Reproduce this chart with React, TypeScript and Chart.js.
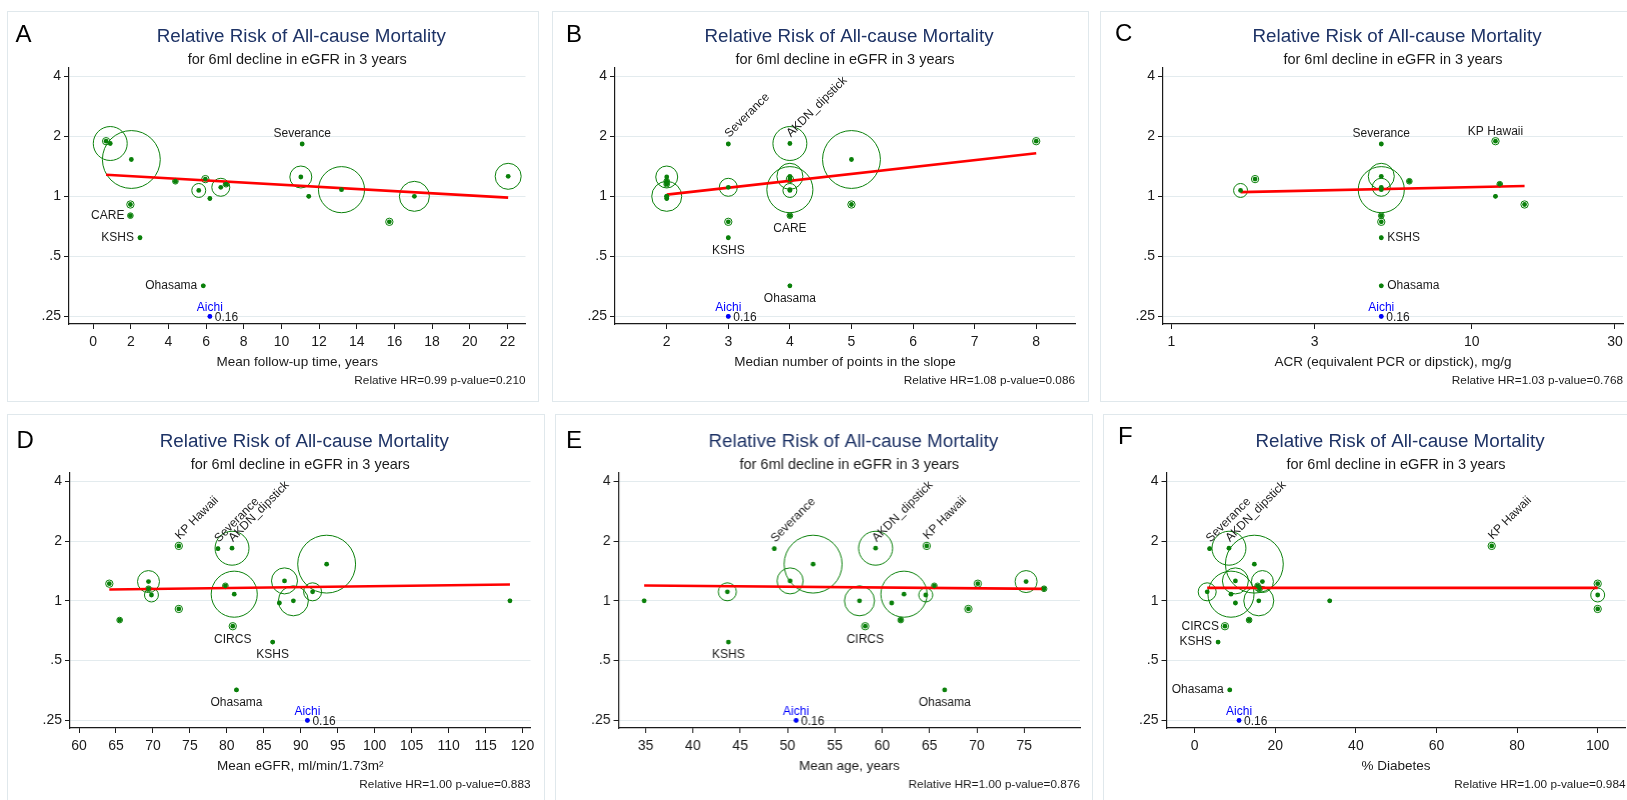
import React, { useEffect, useRef } from "react";
import { Chart, registerables } from "chart.js";

Chart.register(...registerables);

// one entry per cohort, same order in every array
const studies = [
  "KP Hawaii", "AKDN_dipstick", "Cohort 3", "Cohort 4", "CARE", "KSHS", "Cohort 7",
  "Cohort 8", "Cohort 9", "Cohort 10", "Ohasama", "Aichi", "Cohort 13", "Cohort 14",
  "Severance", "Cohort 16", "Cohort 17", "Cohort 18", "CIRCS", "Cohort 20", "Cohort 21",
];
const hazardRatios = [
  1.89, 1.84, 1.53, 0.91, 0.8, 0.62, 1.19, 1.07, 1.22, 0.975, 0.356, 0.16, 1.11, 1.15,
  1.83, 1.25, 1.0, 1.08, 0.745, 1.0, 1.26,
];
const studyWeights = [
  1.5, 32, 93, 1.5, 0.9, 0.3, 0.9, 5.4, 1.5, 0.3, 0.3, 0.3, 9, 0.9, 0.3, 13.4, 0.3, 59,
  1.5, 25, 18.8,
];
const followUpYears = [
  0.69, 0.91, 2.03, 1.98, 1.98, 2.49, 4.37, 5.61, 5.96, 6.2, 5.85, 6.2, 6.78, 7.06, 11.1,
  11.03, 11.45, 13.19, 15.73, 17.06, 22.04,
];
const slopePoints = [8, 4, 5, 5, 4, 3, 2, 4, 4, 2, 4, 3, 3, 2, 3, 2, 2, 4, 3, 2, 4];
const acrMgG = [
  12.0, null, null, 15.0, 5.0, 5.0, 6.2, 1.7, 1.9, null, 5.0, 5.0, 5.0, 12.4, 5.0, null,
  12.0, 5.0, 5.0, null, 5.0,
];
const meanEgfr = [
  73.5, 80.7, 93.5, 73.5, 65.5, 86.2, 79.8, 69.8, 64.1, 87.1, 81.3, 90.9, 91.6, 69.4,
  78.8, 69.4, 118.3, 81.0, 80.8, 89.0, 87.8,
];
const meanAge = [
  64.7, 59.3, 52.7, 69.1, 61.95, 43.75, 65.5, 64.6, 70.1, 61.0, 66.6, 50.9, 43.64, 77.1,
  48.6, 75.2, 34.85, 62.3, 58.2, 57.6, 50.27,
];
const pctDiabetes = [
  73.7, 8.5, 14.8, 100, 13.5, 5.8, 15.6, 100, 100, 10.1, 8.7, 11.0, 3.1, 16.1, 3.7, 16.8,
  33.5, 9.0, 7.5, 15.9, 10.1,
];

// meta-regression lines (start / end)
const fitFollowUp = [{ x: 0.69, y: 1.284 }, { x: 22.04, y: 0.985 }];
const fitSlopePoints = [{ x: 2, y: 1.02 }, { x: 8, y: 1.644 }];
const fitAcr = [{ x: 1.7, y: 1.05 }, { x: 15, y: 1.127 }];
const fitEgfr = [{ x: 64.1, y: 1.14 }, { x: 118.3, y: 1.208 }];
const fitAge = [{ x: 34.85, y: 1.194 }, { x: 77.1, y: 1.149 }];
const fitDiabetes = [{ x: 3.1, y: 1.162 }, { x: 100, y: 1.162 }];

const relativeHR = ["0.99", "1.08", "1.03", "1.00", "1.00", "1.00"];
const pValues = ["0.210", "0.086", "0.768", "0.883", "0.876", "0.984"];

const yTicks = [0.25, 0.5, 1, 2, 4];
const yTickLabels = [".25", ".5", "1", "2", "4"];
const Y_FLOOR = 0.25;

const ticksFollowUp = [0, 2, 4, 6, 8, 10, 12, 14, 16, 18, 20, 22];
const ticksSlope = [2, 3, 4, 5, 6, 7, 8];
const ticksAcr = [1, 3, 10, 30];
const ticksEgfr = [60, 65, 70, 75, 80, 85, 90, 95, 100, 105, 110, 115, 120];
const ticksAge = [35, 40, 45, 50, 55, 60, 65, 70, 75];
const ticksDiabetes = [0, 20, 40, 60, 80, 100];

const FONT = "'Liberation Sans', Arial, sans-serif";
const INK = "#1a1a1a";
const GREEN = "#0a800a";
const BLUE = "#0000ff";
const RED = "#ff0000";
const NAVY = "#1e3366";
const GRID = "#e3ebee";

const panels = [
  {
    letter: "A", letterAt: [8.5, 31], box: [7, 11, 532, 391], plot: [69, 68, 525.5, 324],
    xs: followUpYears, xLog: false, xRange: [-1.28, 22.96], xTicks: ticksFollowUp,
    xTitle: "Mean follow-up time, years", fit: fitFollowUp,
    labels: { Severance: "top", CARE: "left", KSHS: "left", Ohasama: "left" },
  },
  {
    letter: "B", letterAt: [14, 31], box: [551.5, 11, 537, 391], plot: [614.5, 68, 1074.5, 324],
    xs: slopePoints, xLog: false, xRange: [1.16, 8.63], xTicks: ticksSlope,
    xTitle: "Median number of points in the slope", fit: fitSlopePoints,
    labels: { Severance: "rot", AKDN_dipstick: "rot", KSHS: "bottom", CARE: "bottom", Ohasama: "bottom" },
  },
  {
    letter: "C", letterAt: [15, 30], box: [1099.5, 11, 540, 391], plot: [1162.5, 68, 1622.5, 324],
    xs: acrMgG, xLog: true, xRange: [0.938, 31.9], xTicks: ticksAcr,
    xTitle: "ACR (equivalent PCR or dipstick), mg/g", fit: fitAcr,
    labels: { Severance: "top", "KP Hawaii": "top", KSHS: "right", Ohasama: "right" },
  },
  {
    letter: "D", letterAt: [9.5, 34], box: [7, 414, 538, 400], plot: [70, 473, 530.5, 728],
    xs: meanEgfr, xLog: false, xRange: [58.78, 121.08], xTicks: ticksEgfr,
    xTitle: "Mean eGFR, ml/min/1.73m²", fit: fitEgfr,
    labels: { "KP Hawaii": "rot", Severance: "rot", AKDN_dipstick: "rot", CIRCS: "bottom", KSHS: "bottom", Ohasama: "bottom" },
  },
  {
    letter: "E", letterAt: [11, 34], box: [555, 414, 537.5, 400], plot: [618.5, 473, 1079, 728],
    xs: meanAge, xLog: false, xRange: [32.15, 80.9], xTicks: ticksAge,
    xTitle: "Mean age, years", fit: fitAge,
    labels: { Severance: "rot", AKDN_dipstick: "rot", "KP Hawaii": "rot", KSHS: "bottom", CIRCS: "bottom", Ohasama: "bottom" },
  },
  {
    letter: "F", letterAt: [15, 30], box: [1103, 414, 540, 400], plot: [1166.5, 473, 1625.5, 728],
    xs: pctDiabetes, xLog: false, xRange: [-7, 106.9], xTicks: ticksDiabetes,
    xTitle: "% Diabetes", fit: fitDiabetes,
    labels: { Severance: "rot", AKDN_dipstick: "rot", "KP Hawaii": "rot", CIRCS: "left", KSHS: "left", Ohasama: "left" },
  },
];

const clipHR = (hr: number) => Math.max(hr, Y_FLOOR);

const makeTextPlugin = (panel: any, idx: number, rows: any[]) => ({
  id: "panelText",
  afterDatasetsDraw(chart: any) {
    const { ctx, chartArea: a, scales } = chart;
    const mid = (a.left + a.right) / 2;
    ctx.save();

    ctx.fillStyle = "#000";
    ctx.font = `24px ${FONT}`;
    ctx.textAlign = "left";
    ctx.textBaseline = "alphabetic";
    ctx.fillText(panel.letter, panel.letterAt[0], panel.letterAt[1]);

    ctx.textBaseline = "middle";
    ctx.textAlign = "center";
    ctx.fillStyle = NAVY;
    ctx.font = `18.8px ${FONT}`;
    ctx.fillText("Relative Risk of All-cause Mortality", mid + 4, a.top - 31);
    ctx.fillStyle = INK;
    ctx.font = `14.5px ${FONT}`;
    ctx.fillText("for 6ml decline in eGFR in 3 years", mid, a.top - 8);

    ctx.textAlign = "right";
    ctx.font = `11.8px ${FONT}`;
    ctx.fillText(`Relative HR=${relativeHR[idx]} p-value=${pValues[idx]}`, a.right, a.bottom + 56.5);

    // study labels
    ctx.font = `12px ${FONT}`;
    rows.forEach((d) => {
      const px = scales.x.getPixelForValue(d.x);
      const py = scales.y.getPixelForValue(clipHR(d.hr));
      if (d.name === "Aichi") {
        ctx.textBaseline = "middle";
        ctx.textAlign = "center";
        ctx.fillStyle = BLUE;
        ctx.fillText(d.name, px, py - 9);
        ctx.textAlign = "left";
        ctx.fillStyle = INK;
        ctx.fillText(d.hr.toFixed(2), px + 5, py + 1);
        return;
      }
      const where = panel.labels[d.name];
      if (!where) return;
      ctx.fillStyle = INK;
      ctx.textBaseline = "middle";
      if (where === "top") {
        ctx.textAlign = "center";
        ctx.fillText(d.name, px, py - 10);
      } else if (where === "bottom") {
        ctx.textAlign = "center";
        ctx.fillText(d.name, px, py + 13);
      } else if (where === "left") {
        ctx.textAlign = "right";
        ctx.fillText(d.name, px - 6, py);
      } else if (where === "right") {
        ctx.textAlign = "left";
        ctx.fillText(d.name, px + 6, py);
      } else {
        ctx.save();
        ctx.translate(px + 1, py - 6);
        ctx.rotate(-Math.PI / 4);
        ctx.textAlign = "left";
        ctx.textBaseline = "alphabetic";
        ctx.fillText(d.name, 0, 0);
        ctx.restore();
      }
    });
    ctx.restore();
  },
});

const ChartPanel = ({ panel, idx }: { panel: any; idx: number }) => {
  const canvasRef = useRef<HTMLCanvasElement | null>(null);
  const [bx, by, bw, bh] = panel.box;

  useEffect(() => {
    if (!canvasRef.current) return;
    const ctx = canvasRef.current.getContext("2d");
    if (!ctx) return;

    const [pl, pt, pr, pb] = panel.plot;
    const xAxisH = 38.7 + 8.1;
    const bottomPad = bh - (pb - by) - xAxisH;

    const rows = studies
      .map((name, i) => ({ name, i, x: panel.xs[i], hr: hazardRatios[i] }))
      .filter((d) => d.x !== null && d.x !== undefined);

    const chart = new Chart(ctx, {
      type: "scatter",
      data: {
        datasets: [
          {
            type: "line",
            data: panel.fit,
            borderColor: RED,
            borderWidth: 2.6,
            pointRadius: 0,
            fill: false,
            order: 1,
          },
          {
            type: "bubble",
            data: rows.map((d) => ({ x: d.x, y: clipHR(d.hr), r: 3 * Math.sqrt(studyWeights[d.i]) })),
            backgroundColor: "rgba(0,0,0,0)",
            borderColor: GREEN,
            borderWidth: 1,
            order: 2,
          },
          {
            type: "scatter",
            data: rows.map((d) => ({ x: d.x, y: clipHR(d.hr) })),
            pointRadius: 2.4,
            pointBackgroundColor: rows.map((d) => (d.name === "Aichi" ? BLUE : GREEN)),
            pointBorderWidth: 0,
            order: 0,
          },
        ],
      } as any,
      options: {
        animation: false,
        responsive: true,
        maintainAspectRatio: false,
        events: [],
        layout: {
          autoPadding: false,
          padding: { left: 0, top: pt - by, right: bx + bw - pr, bottom: bottomPad },
        },
        plugins: { legend: { display: false }, tooltip: { enabled: false }, title: { display: false } },
        scales: {
          x: {
            type: panel.xLog ? "logarithmic" : "linear",
            min: panel.xRange[0],
            max: panel.xRange[1],
            afterBuildTicks: (s: any) => {
              s.ticks = panel.xTicks.map((v: number) => ({ value: v }));
            },
            afterFit: (s: any) => {
              s.height = xAxisH;
              s.paddingLeft = 0;
              s.paddingRight = 0;
            },
            ticks: {
              callback: (_v: any, i: number) => String(panel.xTicks[i]),
              autoSkip: false,
              maxRotation: 0,
              padding: 5,
              color: INK,
              font: { family: FONT, size: 14 },
            },
            grid: { drawOnChartArea: false, tickLength: 5, tickColor: INK, tickWidth: 1 },
            border: { color: INK, width: 1.2 },
            title: {
              display: true,
              text: panel.xTitle,
              color: INK,
              padding: 0,
              font: { family: FONT, size: 13.5 },
            },
          },
          y: {
            type: "logarithmic",
            min: 0.229,
            max: 4.4,
            afterBuildTicks: (s: any) => {
              s.ticks = yTicks.map((v) => ({ value: v }));
            },
            afterFit: (s: any) => {
              s.width = pl - bx;
              s.paddingTop = 0;
              s.paddingBottom = 0;
            },
            ticks: {
              callback: (_v: any, i: number) => yTickLabels[i],
              autoSkip: false,
              padding: 3,
              color: INK,
              font: { family: FONT, size: 14 },
            },
            grid: { color: GRID, lineWidth: 1, tickLength: 5, tickColor: INK, tickWidth: 1 },
            border: { color: INK, width: 1.2 },
          },
        },
      } as any,
      plugins: [makeTextPlugin(panel, idx, rows)],
    });

    return () => {
      chart.destroy();
    };
  }, [panel, idx]);

  return (
    <>
      <div
        style={{
          position: "absolute",
          left: bx,
          top: by,
          width: bw,
          height: bh,
          border: "1.5px solid #e0e8ec",
          boxSizing: "border-box",
        }}
      />
      <div style={{ position: "absolute", left: bx, top: by, width: bw, height: bh }}>
        <canvas ref={canvasRef} />
      </div>
    </>
  );
};

const App = () => (
  <div
    style={{
      position: "absolute",
      left: 0,
      top: 0,
      width: 1627,
      height: 800,
      overflow: "hidden",
      background: "#fff",
    }}
  >
    {panels.map((p, i) => (
      <ChartPanel key={p.letter} panel={p} idx={i} />
    ))}
  </div>
);

export default App;
